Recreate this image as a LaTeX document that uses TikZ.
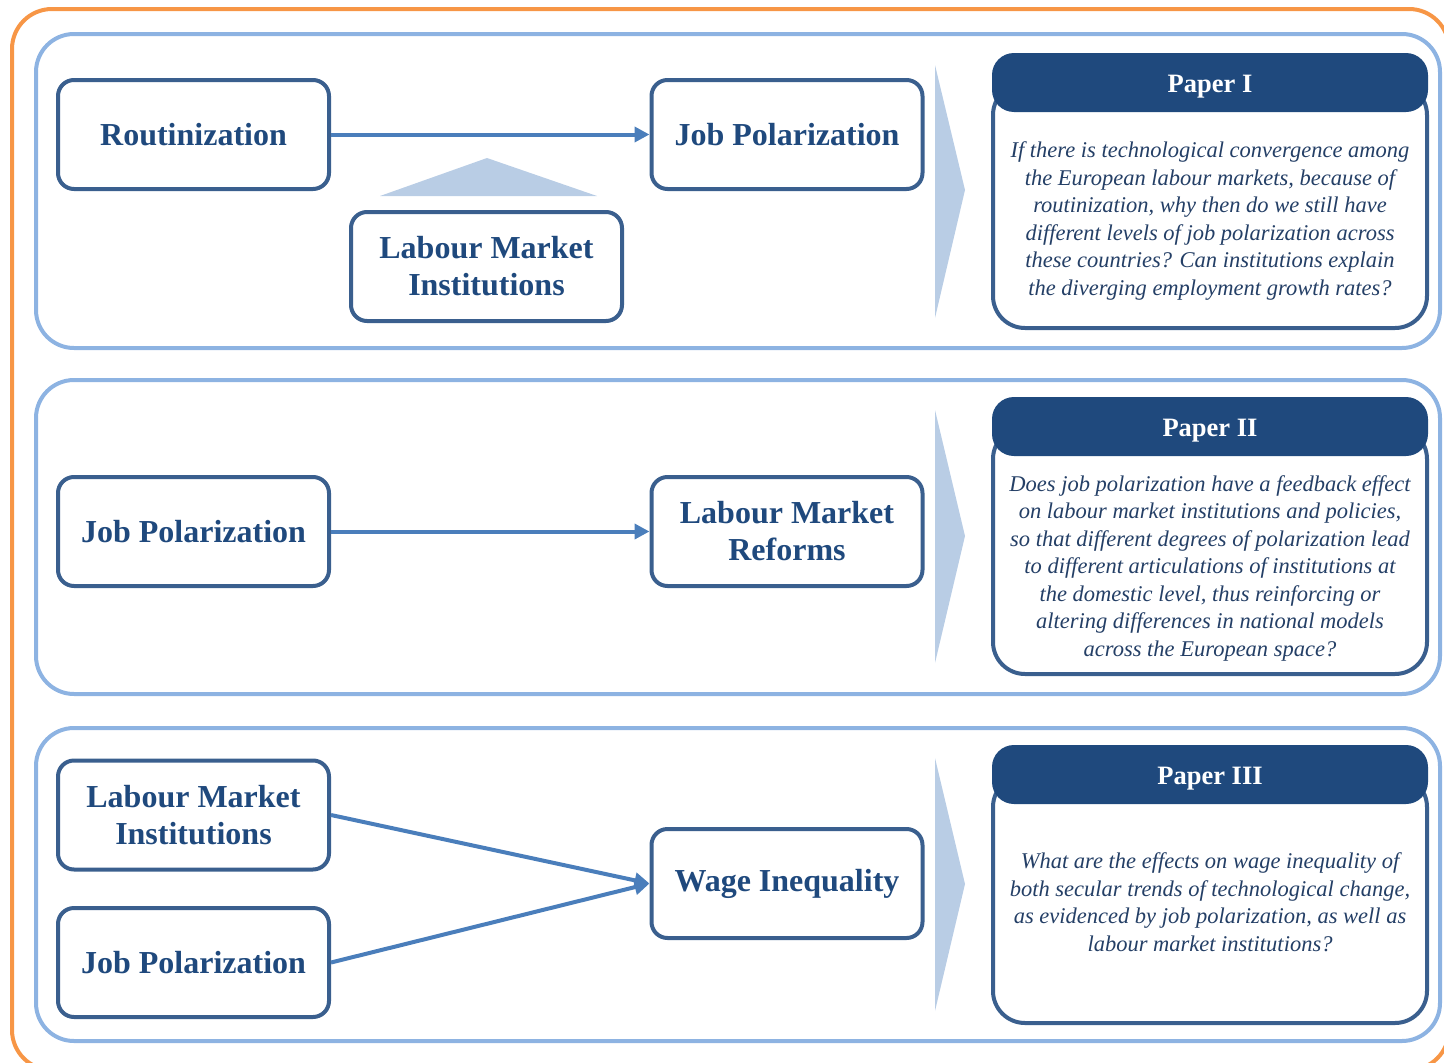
\documentclass[tikz,border=0pt]{standalone}
\usepackage{fontspec}
\setmainfont{Liberation Serif}
\usetikzlibrary{arrows.meta}
\definecolor{frameorange}{HTML}{F79646}
\definecolor{panelblue}{HTML}{8DB3E2}
\definecolor{boxline}{HTML}{3A5F8E}
\definecolor{boxtext}{HTML}{1F497D}
\definecolor{arrowblue}{HTML}{4A7EBB}
\definecolor{paleblue}{HTML}{B9CDE5}
\definecolor{headfill}{HTML}{1F497D}
\definecolor{bodytext}{HTML}{243F66}
\tikzset{
  concept/.style={draw=boxline, line width=4pt, rounded corners=16pt, fill=white,
    minimum width=271pt, minimum height=109pt, align=center, text=boxtext,
    font=\fontsize{32}{37}\selectfont\bfseries, inner sep=0pt},
  link/.style={draw=arrowblue, line width=4pt, -{Triangle[length=15pt,width=15pt]}},
  panel/.style={draw=panelblue, line width=4pt, rounded corners=38pt},
  paperhead/.style={text=white, font=\fontsize{26.5}{30}\selectfont\bfseries},
  paperbody/.style={text=bodytext, align=center,
    font=\fontsize{22.5}{27.5}\selectfont\itshape},
  chevron/.style={fill=paleblue, draw=none}
}
\begin{document}
\begin{tikzpicture}[x=1pt,y=-1pt]
  \useasboundingbox (0,0) rectangle (1444,1063);
  \clip (0,0) rectangle (1444,1063);
  % outer frame
  \draw[frameorange, line width=4pt, rounded corners=40pt] (12,9) rectangle (1449,1070);
  % three panels
  \draw[panel] (36,34) rectangle (1440,348);
  \draw[panel] (36,380) rectangle (1440,694);
  \draw[panel] (36,728) rectangle (1440,1041);

  % ---- panel 1 ----
  \fill[paleblue] (380,196) -- (487,158) -- (597,196) -- cycle;
  \node[concept] (rout) at (193.5,134.5) {Routinization};
  \node[concept] (jp1) at (787,134.5) {Job Polarization};
  \node[concept] (lmi1) at (486.5,266.5) {Labour Market\\Institutions};
  \draw[link] (rout.east) -- (jp1.west);
  \fill[chevron] (935,65) -- (965,190) -- (935,318) -- cycle;

  % ---- panel 2 ----
  \node[concept] (jp2) at (193.5,531.5) {Job Polarization};
  \node[concept] (lmr) at (787,531.5) {Labour Market\\Reforms};
  \draw[link] (jp2.east) -- (lmr.west);
  \fill[chevron] (935,410) -- (965,536) -- (935,663) -- cycle;

  % ---- panel 3 ----
  \node[concept] (lmi3) at (193.5,815) {Labour Market\\Institutions};
  \node[concept] (jp3) at (193.5,962.5) {Job Polarization};
  \node[concept] (wi) at (787,883.5) {Wage Inequality};
  \draw[link] (lmi3.east) -- (wi.west);
  \draw[link] (jp3.east) -- (wi.west);
  \fill[chevron] (935,758) -- (965,884) -- (935,1011) -- cycle;

  % ---- paper boxes ----
  \foreach \name/\top/\bot/\title in {pI/53/328/{Paper I}, pII/397/674/{Paper II}, pIII/745/1023/{Paper III}} {
    \draw[boxline, line width=4pt, rounded corners=32pt, fill=white] (993,\top+30) rectangle (1427,\bot);
    \fill[headfill, rounded corners=22pt] (992,\top) rectangle (1428,\top+59);
    \node[paperhead] (\name) at (1210,\top+34) {\title};
  }
  \node[paperbody] (qI) at (1210,221) {If there is technological convergence among\\
    the European labour markets, because of\\
    routinization, why then do we still have\\
    different levels of job polarization across\\
    these countries? Can institutions explain\\
    the diverging employment growth rates?};
  \node[paperbody] (qII) at (1210,568) {Does job polarization have a feedback effect\\
    on labour market institutions and policies,\\
    so that different degrees of polarization lead\\
    to different articulations of institutions at\\
    the domestic level, thus reinforcing or\\
    altering differences in national models\\
    across the European space?};
  \node[paperbody] (qIII) at (1210,902) {What are the effects on wage inequality of\\
    both secular trends of technological change,\\
    as evidenced by job polarization, as well as\\
    labour market institutions?};
\end{tikzpicture}
\end{document}
